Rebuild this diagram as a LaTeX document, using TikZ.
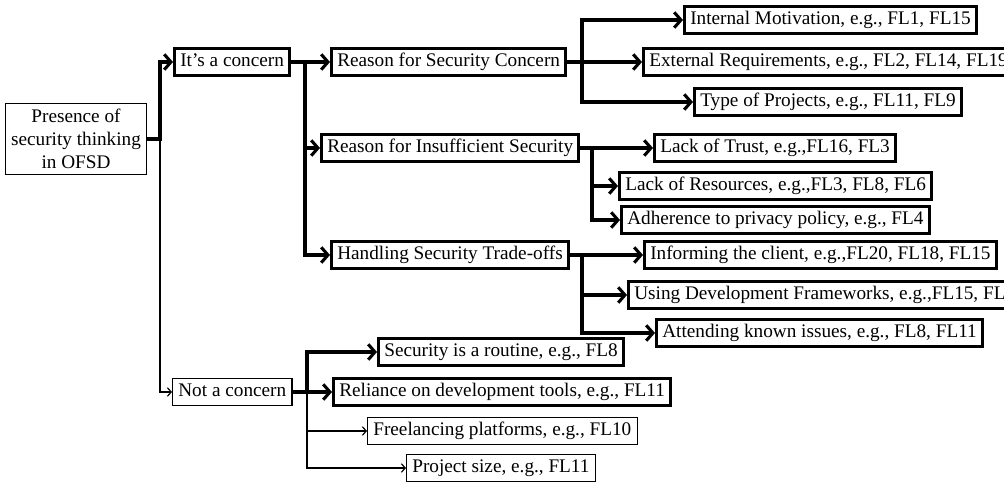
\documentclass[tikz,border=0pt]{standalone}
\usepackage{fontspec}
\setmainfont{Liberation Serif}
\usetikzlibrary{arrows.meta}

\tikzset{every picture/.style={line width=0.6pt}}
\tikzset{
  thickbox/.style={draw, fill=white, line width=1.6pt, inner xsep=3pt, inner ysep=2.5pt, text height=7pt, text depth=2pt, anchor=west},
  thinbox/.style={draw, fill=white, line width=0.6pt, inner xsep=3pt, inner ysep=2.5pt, text height=7pt, text depth=2pt, anchor=west},
  thickline/.style={line width=1.6pt, -{Straight Barb[length=3.5pt,width=8pt]}},
  thinline/.style={line width=0.6pt, -{Straight Barb[length=2pt,width=4.5pt]}}
}

\begin{document}
\begin{tikzpicture}[x=0.52pt,y=-0.52pt]
\useasboundingbox (0,0) rectangle (1004,485);
\clip (0,0) rectangle (1004,485);

% root
\node [draw, line width=0.6pt, align=center, inner sep=3pt] (presence) at (76,139) {Presence of\\security thinking\\in OFSD};

% first level
\node [thickbox] (concern) at (173,62) {It's a concern};
\node [thinbox] (notconcern) at (172,392) {Not a concern};

% second level
\node [thickbox] (rsc) at (330,62) {Reason for Security Concern};
\node [thickbox] (ris) at (320,148) {Reason for Insufficient Security};
\node [thickbox] (hst) at (330,255) {Handling Security Trade-offs};

% leaves of security concern
\node [thickbox] (im) at (683,20) {Internal Motivation, e.g., FL1, FL15};
\node [thickbox] (er) at (642,62) {External Requirements, e.g., FL2, FL14, FL19};
\node [thickbox] (tp) at (693,102) {Type of Projects, e.g., FL11, FL9};

% leaves of insufficient security
\node [thickbox] (lt) at (653,148) {Lack of Trust, e.g.,FL16, FL3};
\node [thickbox] (lr) at (618,186) {Lack of Resources, e.g.,FL3, FL8, FL6};
\node [thickbox] (ap) at (620,220) {Adherence to privacy policy, e.g., FL4};

% leaves of trade-offs
\node [thickbox] (ic) at (643,255) {Informing the client, e.g.,FL20, FL18, FL15};
\node [thickbox] (ud) at (627,295) {Using Development Frameworks, e.g.,FL15, FL20};
\node [thickbox] (ak) at (655,333) {Attending known issues, e.g., FL8, FL11};

% leaves of not a concern
\node [thickbox] (sr) at (377,352) {Security is a routine, e.g., FL8};
\node [thickbox] (rd) at (332,392) {Reliance on development tools, e.g., FL11};
\node [thinbox] (fp) at (367,431) {Freelancing platforms, e.g., FL10};
\node [thinbox] (ps) at (406,468) {Project size, e.g., FL11};

% junctions
\coordinate (j0) at (160,139);
\coordinate (j1) at (305,62);
\coordinate (j2) at (582,62);
\coordinate (j3) at (592,148);
\coordinate (j4) at (582,255);
\coordinate (j5) at (307,392);

% connectors
\draw [thickline] (presence.east) -- (j0) |- (concern.west);
\draw [thinline] (j0) |- (notconcern.west);

\draw [thickline] (concern.east) -- (j1) |- (rsc.west);
\draw [thickline] (j1) |- (ris.west);
\draw [thickline] (j1) |- (hst.west);

\draw [thickline] (rsc.east) -- (j2) -- (er.west);
\draw [thickline] (j2) |- (im.west);
\draw [thickline] (j2) |- (tp.west);

\draw [thickline] (ris.east) -- (lt.west);
\draw [thickline] (j3) |- (lr.west);
\draw [thickline] (j3) |- (ap.west);

\draw [thickline] (hst.east) -- (ic.west);
\draw [thickline] (j4) |- (ud.west);
\draw [thickline] (j4) |- (ak.west);

\draw [thickline] (notconcern.east) -- (rd.west);
\draw [thickline] (j5) |- (sr.west);
\draw [thinline] (j5) |- (fp.west);
\draw [thinline] (j5) |- (ps.west);

% redraw overlapping box on top
\node [thickbox] at (643,255) {Informing the client, e.g.,FL20, FL18, FL15};

\end{tikzpicture}
\end{document}
